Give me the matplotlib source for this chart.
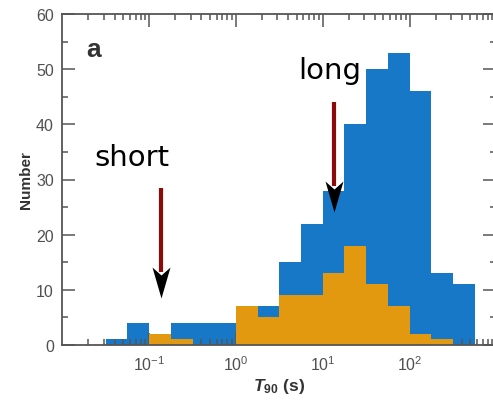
import numpy as np
import matplotlib
matplotlib.use("Agg")
import matplotlib.pyplot as plt
from matplotlib.path import Path
from matplotlib.ticker import LogLocator, NullFormatter

plt.rcParams['font.family'] = ['Liberation Sans', 'DejaVu Sans']
plt.rcParams['mathtext.fontset'] = 'custom'
plt.rcParams['mathtext.rm'] = 'Liberation Sans'
plt.rcParams['mathtext.it'] = 'Liberation Sans:italic'
plt.rcParams['mathtext.bf'] = 'Liberation Sans:bold'
plt.rcParams['mathtext.bfit'] = 'Liberation Sans:italic:bold'

# bin edges in log10(T90 / s)
log_edges = [-1.5, -1.25, -1.0, -0.75, -0.5, -0.25, 0.0, 0.25, 0.5, 0.75,
             1.0, 1.25, 1.5, 1.75, 2.0, 2.25, 2.5, 2.75]
# all bursts (blue) and subset (orange)
n_all = [1, 4, 2, 4, 4, 4, 7, 7, 15, 22, 28, 40, 50, 53, 46, 13, 11]
n_sub = [0, 0, 2, 1, 0, 0, 7, 5, 9, 9, 13, 18, 11, 7, 2, 1, 0]

x_ticks = [0.1, 1, 10, 100]
x_ticklabels = [r'$10^{-1}$', r'$10^{0}$', r'$10^{1}$', r'$10^{2}$']
y_ticks = [0, 10, 20, 30, 40, 50, 60]

# arrows: (x, tip y, top y) and labels
arrow_short = (0.136, 8.5, 28.4)
arrow_long = (13.5, 24.1, 44.0)
label_short = (0.0237, 32.7, 'short')
label_long = (5.23, 48.4, 'long')

blue = '#1778c8'
orange = '#e2990f'
dark_red = '#8b0a0a'
gray = '#505050'

fig = plt.figure(figsize=(4.93, 4.02), dpi=100)
ax = fig.add_axes([62.3 / 493, 56 / 402, 434 / 493, 331 / 402])

edges = 10 ** np.array(log_edges)
ax.stairs(n_all, edges, fill=True, color=blue, zorder=1)
ax.stairs(n_sub, edges, fill=True, color=orange, zorder=2)

ax.set_xscale('log')
ax.set_xlim(1e-2, 1e3)
ax.set_ylim(0, 60)

ax.set_xticks(x_ticks)
ax.set_xticklabels(x_ticklabels)
ax.xaxis.set_minor_locator(LogLocator(base=10, subs=np.arange(2, 10)))
ax.xaxis.set_minor_formatter(NullFormatter())
ax.set_yticks(y_ticks)
ax.set_yticks(np.arange(5, 60, 10), minor=True)

ax.tick_params(which='both', direction='in', top=True, right=True,
               colors='#555555', labelcolor=gray, labelsize=11.5, width=1.1)
ax.tick_params(axis='x', which='major', length=9, pad=7)
ax.tick_params(axis='y', which='major', length=9.5, pad=6)
ax.tick_params(which='minor', length=4.3)
for s in ax.spines.values():
    s.set_color('#555555')
    s.set_linewidth(1.3)

ax.set_xlabel(r'$\mathbfit{T}_{\mathbf{90}}$ (s)', fontsize=12.5,
              fontweight='bold', color='#333333', labelpad=2)
ax.set_ylabel('Number', fontsize=11, fontweight='bold', color='#333333',
              labelpad=2)

ax.text(0.055, 0.873, 'a', transform=ax.transAxes, fontsize=19,
        fontweight='bold', color='#333333')

# arrow heads: black, notched
head = Path([(0, 0), (-9, 31), (0, 23), (9, 31), (0, 0)],
            [Path.MOVETO, Path.LINETO, Path.LINETO, Path.LINETO, Path.CLOSEPOLY])
for x, tip, top in [arrow_short, arrow_long]:
    notch = tip + 23 / 5.52
    ax.plot([x, x], [top, notch + 0.5], color=dark_red, lw=3,
            solid_capstyle='butt', zorder=4)
    ax.plot([x], [tip], marker=head, ms=44.6, color='black',
            markeredgewidth=0, zorder=5)

for x, y, s in [label_short, label_long]:
    ax.text(x, y, s, fontsize=21, family='DejaVu Sans', va='baseline',
            ha='left', color='black')

fig.savefig('out.png', dpi=100)
